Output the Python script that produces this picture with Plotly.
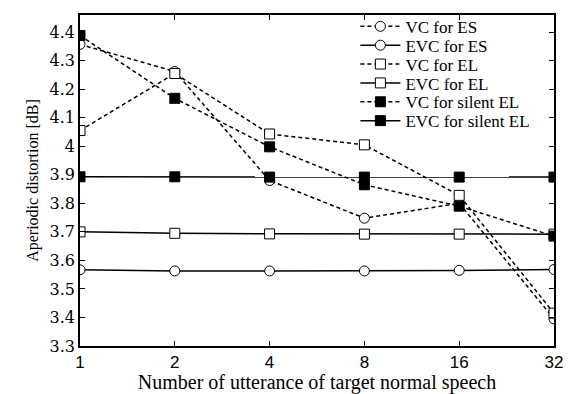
import plotly.graph_objects as go

utterances = [1, 2, 4, 8, 16, 32]
tick_labels = ["1", "2", "4", "8", "16", "32"]
y_ticks = [3.3, 3.4, 3.5, 3.6, 3.7, 3.8, 3.9, 4.0, 4.1, 4.2, 4.3, 4.4]
y_tick_labels = ["3.3", "3.4", "3.5", "3.6", "3.7", "3.8", "3.9", "4", "4.1", "4.2", "4.3", "4.4"]

vc_es = [4.357, 4.262, 3.880, 3.748, 3.800, 3.395]
evc_es = [3.567, 3.563, 3.563, 3.563, 3.565, 3.568]
vc_el = [4.055, 4.255, 4.043, 4.005, 3.828, 3.415]
evc_el = [3.700, 3.695, 3.693, 3.692, 3.692, 3.692]
vc_sel = [4.388, 4.168, 3.998, 3.865, 3.790, 3.685]
evc_sel = [3.893, 3.893, 3.892, 3.892, 3.892, 3.892]

series = [
    ("VC for ES", vc_es, "circle", "white", "dash"),
    ("EVC for ES", evc_es, "circle", "white", "solid"),
    ("VC for EL", vc_el, "square", "white", "dash"),
    ("EVC for EL", evc_el, "square", "white", "solid"),
    ("VC for silent EL", vc_sel, "square", "black", "dash"),
    ("EVC for silent EL", evc_sel, "square", "black", "solid"),
]

serif = "Liberation Serif"
# legend rows (page pixel centres) -> paper coordinates of the plot area (page y 9..346)
row_px = [21, 40.2, 59.4, 78.6, 97.8, 117]

fig = go.Figure()
legend_layout = {}
for i, (name, vals, sym, fill, dash) in enumerate(series):
    key = "legend" if i == 0 else f"legend{i + 1}"
    fig.add_trace(go.Scatter(
        x=utterances, y=vals, name=name, mode="lines+markers", legend=key,
        line=dict(color="black", width=1.5, dash="4px,3px" if dash == "dash" else "solid"),
        marker=dict(symbol=sym, size=10, color=fill, line=dict(color="black", width=1)),
    ))
    legend_layout[key] = dict(
        x=0.581, y=1 - (row_px[i] - 9) / 337, xanchor="left", yanchor="middle",
        bgcolor="rgba(0,0,0,0)", borderwidth=0,
        font=dict(family=serif, size=17, color="black"), itemwidth=40,
    )

# page body has an 8px default margin, so the figure is sized to fit the window
fig.update_layout(
    width=564, height=386,
    margin=dict(l=72, r=18, t=1, b=48),
    plot_bgcolor="white", paper_bgcolor="white",
    showlegend=True,
    font=dict(family=serif, color="black"),
    **legend_layout,
)
fig.update_xaxes(
    type="log", range=[0, 1.50515], tickvals=utterances, ticktext=tick_labels,
    tickfont=dict(family="Liberation Sans", size=17, color="black"),
    ticks="inside", ticklen=5, tickcolor="black", mirror="ticks",
    showline=True, linecolor="black", linewidth=1.5, showgrid=False, zeroline=False,
    title=dict(text="Number of utterance of target normal speech", font=dict(family=serif, size=20), standoff=3),
)
fig.update_yaxes(
    range=[3.3, 4.46], tickvals=y_ticks, ticktext=y_tick_labels,
    tickfont=dict(family="DejaVu Serif", size=16, color="black"),
    ticks="inside", ticklen=5, tickcolor="black", mirror="ticks",
    showline=True, linecolor="black", linewidth=1.5, showgrid=False, zeroline=False,
    title=dict(text="Aperiodic distortion [dB]", font=dict(family=serif, size=16), standoff=7),
)
fig.write_html("out.html")
